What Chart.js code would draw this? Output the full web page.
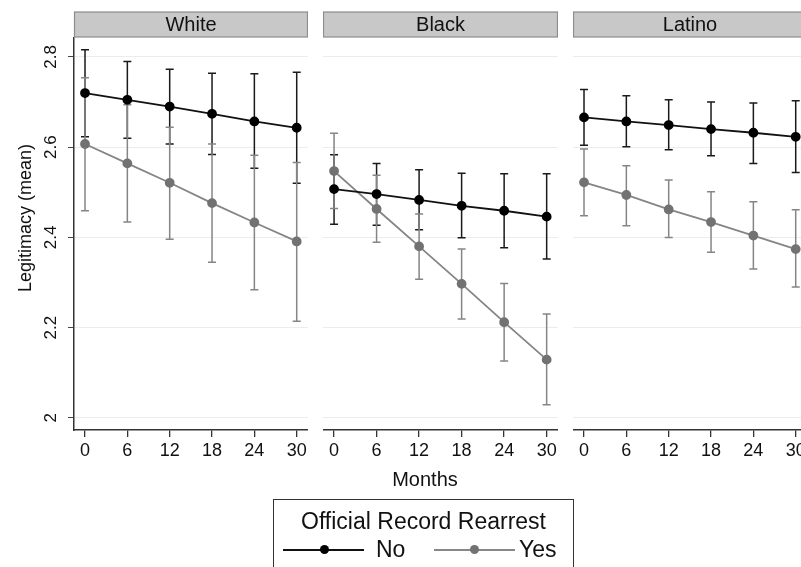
<!DOCTYPE html>
<html>
<head>
<meta charset="utf-8">
<script src="https://cdn.jsdelivr.net/npm/chart.js@4.4.1/dist/chart.umd.min.js"></script>
<style>
  body { margin: 0; width: 801px; height: 567px; overflow: hidden; background: #fff; position: relative;
         font-family: "Liberation Sans", Arial, sans-serif; color: #111; }
  canvas { position: absolute; top: 0; }
  .ytitle { position: absolute; left: -75px; top: 207px; width: 200px; text-align: center; font-size: 18px;
            line-height: 22px; transform: rotate(-90deg); }
  .xtitle { position: absolute; left: 325px; width: 200px; top: 468px; text-align: center; font-size: 20px; }
  .legend { position: absolute; left: 273px; top: 499px; width: 301px; height: 90px; border: 1.5px solid #333;
            box-sizing: border-box; }
  .legend .title { position: absolute; left: 0; right: 0; top: 8px; text-align: center; font-size: 23px; }
  .legend .line { position: absolute; height: 2px; top: 49px; }
  .legend .dot { position: absolute; width: 9px; height: 9px; border-radius: 50%; top: 45px; }
  .legend .lab { position: absolute; top: 36px; font-size: 23px; }
</style>
</head>
<body>
<canvas id="p0"></canvas>
<canvas id="p1"></canvas>
<canvas id="p2"></canvas>
<div class="ytitle">Legitimacy (mean)</div>
<div class="xtitle">Months</div>
<div class="legend">
  <div class="title">Official Record Rearrest</div>
  <div class="line" style="left:9px;width:81px;background:#111"></div>
  <div class="dot" style="left:46px;background:#000"></div>
  <div class="lab" style="left:102px">No</div>
  <div class="line" style="left:160px;width:81px;background:#888"></div>
  <div class="dot" style="left:196px;background:#727272"></div>
  <div class="lab" style="left:245px">Yes</div>
</div>
<script>
const groups = ['White', 'Black', 'Latino'];
const months = [0, 6, 12, 18, 24, 30];
const yTicks = [2, 2.2, 2.4, 2.6, 2.8];

// means and 95% CI bounds
const whiteNo = [2.720, 2.705, 2.690, 2.674, 2.657, 2.643];
const whiteNoLo = [2.623, 2.620, 2.607, 2.584, 2.553, 2.520];
const whiteNoHi = [2.816, 2.790, 2.773, 2.764, 2.763, 2.766];
const whiteYes = [2.607, 2.564, 2.521, 2.476, 2.433, 2.391];
const whiteYesLo = [2.459, 2.434, 2.396, 2.345, 2.284, 2.214];
const whiteYesHi = [2.754, 2.694, 2.644, 2.607, 2.582, 2.566];

const blackNo = [2.507, 2.496, 2.483, 2.470, 2.459, 2.446];
const blackNoLo = [2.429, 2.427, 2.417, 2.399, 2.377, 2.352];
const blackNoHi = [2.583, 2.564, 2.550, 2.542, 2.541, 2.541];
const blackYes = [2.547, 2.463, 2.380, 2.297, 2.212, 2.129];
const blackYesLo = [2.464, 2.389, 2.307, 2.219, 2.126, 2.029];
const blackYesHi = [2.631, 2.538, 2.452, 2.374, 2.298, 2.230];

const latinoNo = [2.666, 2.657, 2.649, 2.640, 2.632, 2.623];
const latinoNoLo = [2.604, 2.601, 2.594, 2.581, 2.564, 2.544];
const latinoNoHi = [2.728, 2.714, 2.705, 2.700, 2.698, 2.703];
const latinoYes = [2.522, 2.494, 2.462, 2.434, 2.404, 2.374];
const latinoYesLo = [2.448, 2.426, 2.400, 2.367, 2.330, 2.290];
const latinoYesHi = [2.596, 2.559, 2.527, 2.501, 2.479, 2.461];

const panelData = [
    { no: whiteNo, noLo: whiteNoLo, noHi: whiteNoHi, yes: whiteYes, yesLo: whiteYesLo, yesHi: whiteYesHi },
    { no: blackNo, noLo: blackNoLo, noHi: blackNoHi, yes: blackYes, yesLo: blackYesLo, yesHi: blackYesHi },
    { no: latinoNo, noLo: latinoNoLo, noHi: latinoNoHi, yes: latinoYes, yesLo: latinoYesLo, yesHi: latinoYesHi }
];

const FONT = '"Liberation Sans", Arial, sans-serif';
const panelLeft = [0, 323, 573];
const panelWidth = [308, 235, 234];

// error bars drawn under the markers
const errorBars = {
    id: 'errorBars',
    beforeDatasetsDraw(chart) {
        const ctx = chart.ctx;
        const x = chart.scales.x, y = chart.scales.y;
        chart.data.datasets.forEach(ds => {
            ctx.save();
            ctx.strokeStyle = ds.barColor;
            ctx.lineWidth = 1.5;
            months.forEach((m, i) => {
                const px = x.getPixelForValue(m);
                const top = y.getPixelForValue(ds.hi[i]);
                const bot = y.getPixelForValue(ds.lo[i]);
                ctx.beginPath();
                ctx.moveTo(px, top); ctx.lineTo(px, bot);
                ctx.moveTo(px - 4, top); ctx.lineTo(px + 4, top);
                ctx.moveTo(px - 4, bot); ctx.lineTo(px + 4, bot);
                ctx.stroke();
            });
            ctx.restore();
        });
    }
};

// gray strip with the group name above each panel
const stripPlugin = {
    id: 'strip',
    afterDraw(chart, args, opts) {
        const ctx = chart.ctx;
        const a = chart.chartArea;
        ctx.save();
        ctx.fillStyle = '#c8c8c8';
        ctx.strokeStyle = '#8c8c8c';
        ctx.lineWidth = 1.2;
        ctx.fillRect(a.left, 12, a.right - a.left, 25);
        ctx.strokeRect(a.left + 0.5, 12, a.right - a.left - 1, 25);
        ctx.fillStyle = '#111';
        ctx.font = '20px ' + FONT;
        ctx.textAlign = 'center';
        ctx.textBaseline = 'middle';
        ctx.fillText(opts.text, (a.left + a.right) / 2, 25);
        // rotated y tick labels on the first panel only
        if (opts.yLabels) {
            const y = chart.scales.y;
            ctx.font = '17px ' + FONT;
            y.ticks.forEach(t => {
                ctx.save();
                ctx.translate(51, y.getPixelForValue(t.value));
                ctx.rotate(-Math.PI / 2);
                ctx.fillText(String(+t.value.toFixed(1)), 0, 0);
                ctx.restore();
            });
        }
        ctx.restore();
    }
};

groups.forEach((g, k) => {
    const cv = document.getElementById('p' + k);
    cv.width = panelWidth[k];
    cv.height = 470;
    cv.style.left = panelLeft[k] + 'px';
    const d = panelData[k];
    const first = k === 0;
    new Chart(cv.getContext('2d'), {
        type: 'line',
        data: {
            datasets: [{
                label: 'No',
                data: months.map((m, i) => ({ x: m, y: d.no[i] })),
                lo: d.noLo, hi: d.noHi, barColor: '#1a1a1a',
                borderColor: '#111', backgroundColor: '#000',
                pointBackgroundColor: '#000', pointBorderColor: '#000',
                borderWidth: 1.8, pointRadius: 4, pointHoverRadius: 4
            }, {
                label: 'Yes',
                data: months.map((m, i) => ({ x: m, y: d.yes[i] })),
                lo: d.yesLo, hi: d.yesHi, barColor: '#858585',
                borderColor: '#858585', backgroundColor: '#727272',
                pointBackgroundColor: '#727272', pointBorderColor: '#727272',
                borderWidth: 1.8, pointRadius: 4, pointHoverRadius: 4
            }]
        },
        options: {
            responsive: false,
            animation: false,
            layout: { autoPadding: false, padding: { top: 38, left: 0, right: 0, bottom: 0 } },
            plugins: {
                legend: { display: false },
                tooltip: { enabled: false },
                strip: { text: g, yLabels: first }
            },
            scales: {
                x: {
                    type: 'linear',
                    min: -1.56, max: 31.6,
                    afterBuildTicks: s => { s.ticks = months.map(v => ({ value: v })); },
                    afterFit: s => { s.height = 40; s.paddingLeft = 0; s.paddingRight = 0; },
                    grid: { drawOnChartArea: false, tickLength: 7, color: '#333', lineWidth: 1.3 },
                    border: { display: true, color: '#333', width: 1.5 },
                    ticks: { color: '#111', font: { size: 18, family: FONT }, padding: 3, maxRotation: 0 }
                },
                y: {
                    min: 1.973, max: 2.842,
                    afterBuildTicks: s => { s.ticks = yTicks.map(v => ({ value: v })); },
                    afterFit: s => { s.width = first ? 74 : 0; s.paddingTop = 0; s.paddingBottom = 0; },
                    grid: { color: '#ececec', lineWidth: 1, tickColor: '#444', tickLength: first ? 6 : 0, drawTicks: first },
                    border: { display: first, color: '#333', width: 1.5 },
                    ticks: { display: false }
                }
            }
        },
        plugins: [errorBars, stripPlugin]
    });
});
</script>
</body>
</html>
